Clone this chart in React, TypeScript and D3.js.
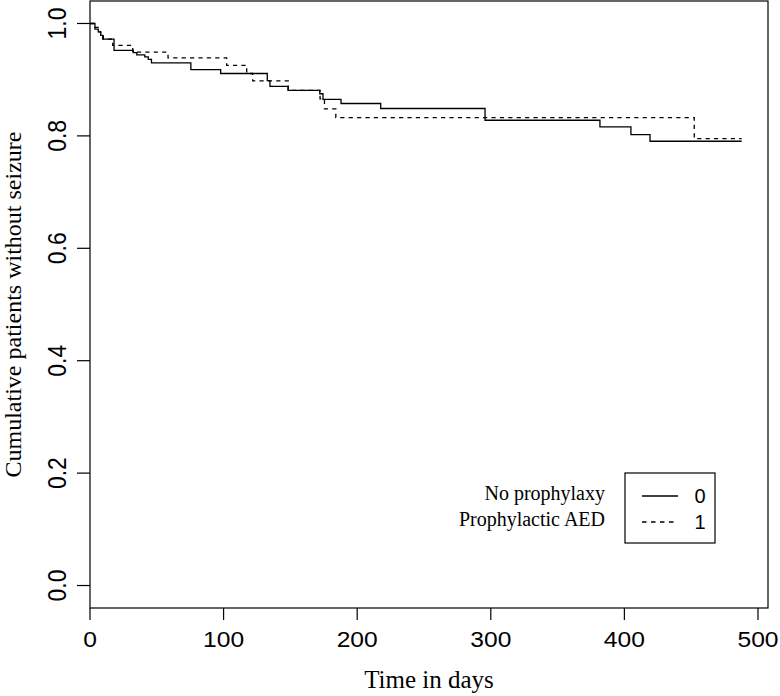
import React from "react";
import * as d3 from "d3";

// Kaplan-Meier step data (time in days, cumulative proportion without seizure)
const noProphylaxisTimes = [0, 3.7, 6.2, 8, 9.5, 18, 32.4, 35, 41, 43.6, 46, 75.5, 97.8, 132.7, 134.7, 148.2, 172, 174.4, 187.9, 217.6, 295.7, 381.7, 404.9, 419.2];
const noProphylaxisSurv = [1, 0.99, 0.985, 0.979, 0.972, 0.952, 0.948, 0.944, 0.9405, 0.936, 0.93, 0.918, 0.911, 0.8985, 0.888, 0.881, 0.875, 0.865, 0.8576, 0.8487, 0.8278, 0.816, 0.8024, 0.7905];
const prophylacticTimes = [0, 3, 6, 8, 10, 17, 32, 58.4, 102.3, 117.3, 121.8, 148.4, 172.2, 175.5, 184, 452.3];
const prophylacticSurv = [1, 0.993, 0.985, 0.979, 0.972, 0.961, 0.949, 0.9388, 0.9256, 0.911, 0.898, 0.881, 0.866, 0.848, 0.8325, 0.795];
const endTime = 487.8;

const xTicks = [0, 100, 200, 300, 400, 500];
const yTicks = [0, 0.2, 0.4, 0.6, 0.8, 1.0];
const legendTitles = ["No prophylaxy", "Prophylactic AED"];
const legendKeys = ["0", "1"];

const W = 780;
const H = 696;
const box = { left: 90, right: 768, top: 1, bottom: 608 };

export default function App() {
  const x = d3.scaleLinear().domain([0, 507.5]).range([box.left, box.right]);
  const y = d3.scaleLinear().domain([-0.04, 1.04]).range([box.bottom, box.top]);

  const line = d3
    .line<[number, number]>()
    .x((d) => x(d[0]))
    .y((d) => y(d[1]))
    .curve(d3.curveStepAfter);

  const toPts = (ts: number[], ss: number[]): [number, number][] => {
    const pts: [number, number][] = ts.map((t, i) => [t, ss[i]]);
    pts.push([endTime, ss[ss.length - 1]]);
    return pts;
  };

  const solidPath = line(toPts(noProphylaxisTimes, noProphylaxisSurv)) || "";
  const dashPath = line(toPts(prophylacticTimes, prophylacticSurv)) || "";

  const sans = "'Liberation Sans', Arial, Helvetica, sans-serif";
  const serif = "'Liberation Serif', 'Times New Roman', serif";

  const legBox = { x0: 625, x1: 715, y0: 473, y1: 543 };
  const legRows = [496, 522];

  return (
    <svg
      width={W}
      height={H}
      style={{ position: "absolute", left: 0, top: 0, display: "block", background: "#fff" }}
    >
      <rect x={0} y={0} width={W} height={H} fill="#fff" />
      {/* plot box */}
      <rect
        x={box.left}
        y={box.top}
        width={box.right - box.left}
        height={box.bottom - box.top}
        fill="none"
        stroke="#000"
        strokeWidth={1.2}
      />
      {/* x axis ticks */}
      {xTicks.map((t) => (
        <g key={"x" + t}>
          <line x1={x(t)} x2={x(t)} y1={box.bottom} y2={box.bottom + 12} stroke="#000" strokeWidth={1.2} />
          <text
            x={0}
            y={0}
            textAnchor="middle"
            fontFamily={sans}
            fontSize={22}
            transform={`translate(${x(t)},647) scale(1.12,1)`}
          >
            {t}
          </text>
        </g>
      ))}
      {/* y axis ticks */}
      {yTicks.map((v) => (
        <g key={"y" + v}>
          <line x1={box.left - 13} x2={box.left} y1={y(v)} y2={y(v)} stroke="#000" strokeWidth={1.2} />
          <text
            transform={`translate(66,${y(v)}) rotate(-90) scale(1,1.12)`}
            textAnchor="middle"
            fontFamily={sans}
            fontSize={23}
          >
            {v.toFixed(1)}
          </text>
        </g>
      ))}
      {/* axis titles */}
      <text x={(box.left + box.right) / 2} y={688} textAnchor="middle" fontFamily={serif} fontSize={25}>
        Time in days
      </text>
      <text
        transform={`translate(21,${(box.top + box.bottom) / 2}) rotate(-90)`}
        textAnchor="middle"
        fontFamily={serif}
        fontSize={24}
      >
        Cumulative patients without seizure
      </text>
      {/* curves */}
      <path d={solidPath} fill="none" stroke="#000" strokeWidth={1.3} />
      <path d={dashPath} fill="none" stroke="#000" strokeWidth={1.3} strokeDasharray="4.2,4.2" />
      {/* legend */}
      <rect
        x={legBox.x0}
        y={legBox.y0}
        width={legBox.x1 - legBox.x0}
        height={legBox.y1 - legBox.y0}
        fill="none"
        stroke="#000"
        strokeWidth={1.2}
      />
      {legRows.map((ry, i) => (
        <g key={"leg" + i}>
          <line
            x1={642}
            x2={678}
            y1={ry}
            y2={ry}
            stroke="#000"
            strokeWidth={1.3}
            strokeDasharray={i === 1 ? "4.5,4.5" : undefined}
          />
          <text x={700} y={ry + 7} textAnchor="middle" fontFamily={sans} fontSize={20}>
            {legendKeys[i]}
          </text>
          <text x={605} y={ry + 4} textAnchor="end" fontFamily={serif} fontSize={20}>
            {legendTitles[i]}
          </text>
        </g>
      ))}
    </svg>
  );
}
